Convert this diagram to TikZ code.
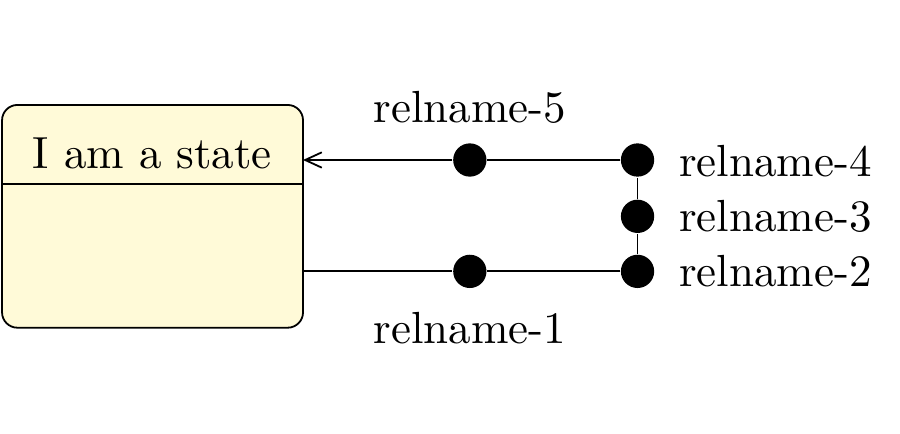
\documentclass[tikz,border=0pt]{standalone}
\usetikzlibrary{arrows.meta}

\definecolor{statefill}{RGB}{255,250,216}

\begin{document}
\begin{tikzpicture}
\tikzstyle{dot}=[circle,fill=black,inner sep=0pt,minimum size=0.26cm]

\useasboundingbox (0,0) rectangle (7.03,3.39);

% state with its name compartment
\draw[fill=statefill,rounded corners=0.12cm] (0.016,0.83) rectangle (2.367,2.57);
\draw (0.016,1.95) -- (2.367,1.95);
\node (name) at (1.19,2.19) {I am a state};
\coordinate (in) at (2.367,2.14);
\coordinate (out) at (2.367,1.27);

\node[dot] (d1) at (3.67,1.27) {};
\node[dot] (d2) at (4.98,1.27) {};
\node[dot] (d3) at (4.98,1.70) {};
\node[dot] (d4) at (4.98,2.14) {};
\node[dot] (d5) at (3.67,2.14) {};

\draw (out) -- (d1) -- (d2) -- (d3) -- (d4) -- (d5);
\draw[-{Straight Barb[length=1.3mm,width=1.2mm]}] (d5) -- (in);

\node (l1) at (3.67,0.83) {relname-1};
\node[anchor=west] (l2) at (5.18,1.27) {relname-2};
\node[anchor=west] (l3) at (5.18,1.70) {relname-3};
\node[anchor=west] (l4) at (5.18,2.13) {relname-4};
\node (l5) at (3.67,2.55) {relname-5};

\end{tikzpicture}
\end{document}
